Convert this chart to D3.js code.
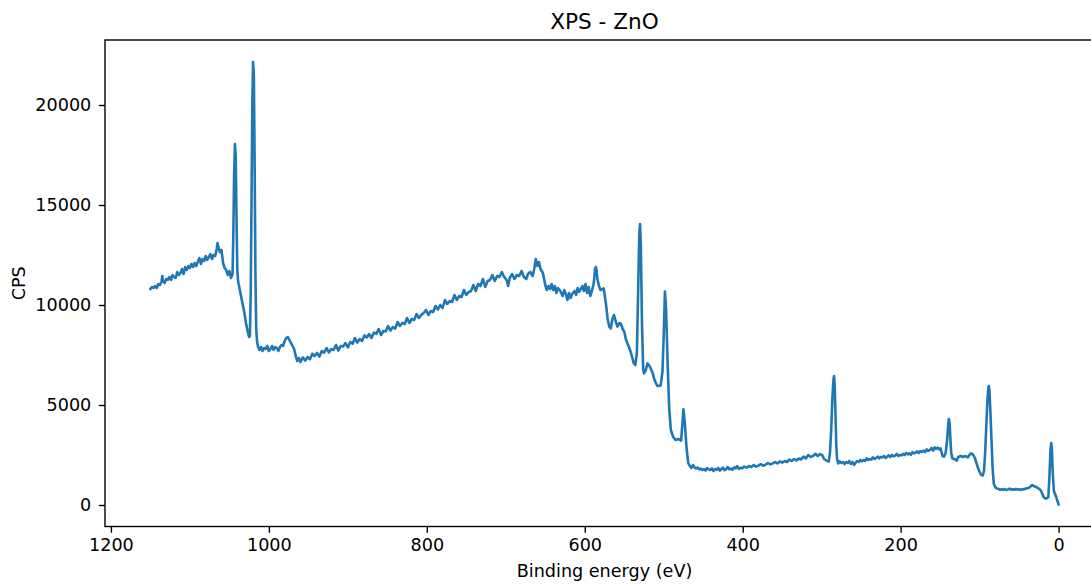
<!DOCTYPE html>
<html>
<head>
<meta charset="utf-8">
<script src="https://cdn.jsdelivr.net/npm/d3@7"></script>
<style>
html,body{margin:0;padding:0;background:#fff;}
svg{display:block;font-family:"DejaVu Sans",sans-serif;}
</style>
</head>
<body>
<div id="chart"></div>
<script>
const energy = [
1150,1148,1146,1144,1142,1140,1138,1136,1135,1134,
1132,1130,1128,1126,1124,1122,1120,1118,1116,1114,
1112,1110,1108,1106,1104,1102,1100,1098,1096,1094,
1092,1090,1088,1086,1084,1082,1080,1078,1076,1074,
1072,1070,1068,1066,1065,1064,1062,1060,1058,1056,
1054,1052,1050,1048,1046,1045,1044,1043,1042,1041,
1040,1039,1037,1035,1033,1031,1029,1027,1025,1024,
1023,1022,1021,1020,1019,1018,1017,1016,1015,1014,
1012,1010,1008,1006,1004,1002,1000,998,996,994,
992,990,988,986,984,982,980,978,976,974,
972,970,968,966,964,962,960,957,954,951,
948,945,942,939,936,933,930,927,924,921,
918,915,912,909,906,903,900,897,894,891,
888,885,882,879,876,873,870,867,864,861,
858,855,852,849,846,843,840,837,834,831,
828,825,822,819,816,813,810,807,804,801,
798,795,792,789,786,783,780,777,774,771,
768,765,762,759,756,753,750,747,744,741,
738,735,732,729,726,723,720,717,714,711,
708,705,702,699,697,695,692,689,686,683,
680,677,674,672,669,666,664,662,660,658,
656,653,650,648,646,644,642,640,638,636,
634,631,628,626,624,622,620,618,616,613,
611,609,607,605,603,601,599,597,595,593,
591,589,588,587,586,585,584,582,580,576,
573,571,569,567,565,563,561,558.6,556,554.4,
552,550,548,546,544,542,540,538,536,534,
532.5,531,530,529,527.5,526,525,523,520.6,518,
516.5,514,512.3,510,508,506,503.8,501.6,500,498.5,
497,495,493,491,488,485,481,478,476.5,475,
473.5,471,469,467,465,463,461,459,457,455,
453,451,449,447,445,443,441,439,437,435,
433,431,429,427,425,423,421,419,417,415,
413,411,409,407,405,403,401,398,395,392,
389,386,383,380,377,374,371,368,365,362,
359,356,353,350,347,344,341,338,335,332,
329,326,323,320,317,314,311,308,305,302,
299,297,295,293,291,289.5,288,286.5,285,284.3,
283.5,282.5,281.5,280.5,279,277,275,273,271,269,
267,265,263,261,259,257,255,253,251,249,
247,245,243,241,239,237,235,233,231,229,
227,225,223,221,219,217,215,213,211,209,
207,205,203,201,199,197,195,193,191,189,
187,185,183,181,179,177,175,173,171,169,
167,165,163,161,159,157,155,153,151,149.5,
147,145,143,141,140,139,138,137,136,134.5,
132,129,127,124,121,118,115,112,110,108,
106,104,102,100,98,96,94.5,93,91.5,90,
89,88.3,87.5,86.5,85,83.5,82,80,78,76,
74,72,70,68,66,64,62,60,58,56,
54,52,50,48,46,44,42,40,38,36,
34.5,33,31,29,27,25,23,21,19,17,
15,13,11.5,10.3,9.3,8.5,7.5,6,4.5,3,
1.5,0];
const cps = [
10800,10900,10850,10950,10850,11050,11000,11150,11450,11200,
11100,11300,11250,11400,11250,11500,11400,11350,11650,11500,
11600,11800,11550,11900,11750,11950,11850,12050,11900,12100,
11950,12150,12350,12050,12300,12200,12450,12250,12400,12550,
12300,12500,12450,12800,13100,12900,12650,12750,12100,11850,
11750,11500,11700,11350,11550,13500,16500,18050,17500,14500,
11800,11200,10800,10400,10000,9600,9100,8700,8400,8450,
10500,15000,20000,22150,21500,17000,11500,8800,8200,7950,
7750,7900,7700,7850,7800,7950,7700,7800,7950,7750,
7900,7850,7700,7900,8000,7950,8200,8350,8400,8250,
8100,7950,7800,7450,7200,7350,7150,7380,7220,7400,
7290,7560,7450,7600,7420,7700,7620,7850,7630,7800,
7750,8000,7720,7950,7930,8100,7880,8150,8060,8350,
8120,8300,8200,8480,8380,8550,8350,8620,8560,8800,
8500,8700,8680,8950,8720,8900,8820,9150,8950,9100,
9050,9350,9100,9300,9250,9550,9350,9500,9600,9750,
9500,9700,9650,9950,9780,10000,9850,10250,10050,10200,
10150,10500,10250,10450,10400,10750,10500,10650,10700,11000,
10700,11050,10950,11300,10900,11200,11250,11500,11200,11450,
11400,11650,11400,11250,10950,11350,11550,11300,11500,11450,
11700,11400,11300,11550,11650,11450,11800,12300,11950,12150,
11800,11600,11000,10750,10950,10800,11050,10750,10950,10600,
10850,10700,10450,10750,10550,10250,10600,10350,10550,10700,
10500,10850,10650,10800,10950,10700,11050,10600,10900,10450,
10700,11000,11300,11800,11900,11750,11300,10950,10750,10830,
10000,9300,8920,8830,9300,9500,9200,8920,9100,9080,
8800,8670,8300,8080,7900,7670,7400,7080,7000,7600,
10500,13500,14050,13000,9000,6800,6580,6700,7080,6950,
6830,6600,6330,6100,5950,5950,6000,6670,8500,10670,
9800,7000,4800,3750,3400,3250,3300,3220,4000,4780,
4200,2800,2100,1950,1850,2000,1880,1830,1870,1780,
1820,1750,1800,1720,1850,1780,1750,1830,1700,1800,
1760,1850,1720,1800,1870,1740,1790,1900,1780,1820,
1760,1880,1830,1950,1800,1860,1830,1920,1870,1950,
1900,2000,1920,1970,2050,1960,2020,2100,2030,2080,
2150,2080,2180,2120,2200,2150,2270,2200,2300,2230,
2320,2280,2420,2330,2500,2400,2450,2560,2450,2550,
2480,2300,2250,2200,2170,2600,3700,5300,6300,6450,
6000,4500,3000,2300,2080,2180,2100,2150,2050,2150,
2100,2200,2050,2150,2000,2120,2200,2150,2250,2180,
2260,2200,2330,2250,2300,2280,2380,2300,2350,2420,
2330,2400,2380,2450,2350,2420,2480,2400,2500,2430,
2470,2550,2450,2500,2480,2560,2500,2600,2530,2580,
2520,2640,2580,2620,2680,2600,2700,2650,2720,2650,
2780,2700,2750,2850,2720,2880,2800,2870,2780,2830,
2450,2420,2600,3300,3900,4300,4100,3300,2600,2330,
2300,2220,2400,2450,2400,2450,2380,2550,2580,2500,
2350,2100,1850,1650,1500,1480,1700,2600,4000,5300,
5800,5950,5700,4800,3300,1800,1050,880,820,800,
760,790,760,800,750,780,820,770,790,760,
810,770,790,750,800,780,820,830,860,900,
980,1000,930,920,860,820,750,600,400,330,
330,400,1500,2700,3100,2800,1700,700,550,400,
200,30];
const xTicks = [1200,1000,800,600,400,200,0];
const yTicks = [0,5000,10000,15000,20000];
const titleText = "XPS - ZnO";
const xLabel = "Binding energy (eV)";
const yLabel = "CPS";

const W = 1091, H = 584;
const m = {left:105, top:40, right:1104, bottom:526.5};
const svg = d3.select("#chart").append("svg").attr("width",W).attr("height",H);

const x = d3.scaleLinear().domain([1207.5,-57.5]).range([m.left,m.right]);
const y = d3.scaleLinear().domain([-1075,23250]).range([m.bottom,m.top]);

svg.append("clipPath").attr("id","clip").append("rect")
  .attr("x",m.left).attr("y",m.top).attr("width",m.right-m.left).attr("height",m.bottom-m.top);

const n = Math.min(energy.length, cps.length);
const pts = d3.range(n).map(i=>[energy[i],cps[i]]);
svg.append("path").datum(pts)
  .attr("clip-path","url(#clip)")
  .attr("fill","none").attr("stroke","#1f77b4").attr("stroke-width",2.6)
  .attr("stroke-linejoin","round").attr("stroke-linecap","square")
  .attr("d", d3.line().x(d=>x(d[0])).y(d=>y(d[1])));

// axes
const xAxis = d3.axisBottom(x).tickValues(xTicks).tickSize(6.2).tickPadding(6.2).tickFormat(d3.format("d"));
const yAxis = d3.axisLeft(y).tickValues(yTicks).tickSize(6.2).tickPadding(7.5).tickFormat(d3.format("d"));
const gx = svg.append("g").attr("transform",`translate(0,${m.bottom})`).call(xAxis);
const gy = svg.append("g").attr("transform",`translate(${m.left},0)`).call(yAxis);
[gx,gy].forEach(g=>{
  g.select(".domain").remove();
  g.selectAll(".tick line").attr("stroke","#000").attr("stroke-width",1.4);
  g.selectAll(".tick text").attr("fill","#000").style("font-size","17.6px").style("font-family","'DejaVu Sans'");
});

// spines
svg.append("rect").attr("x",m.left).attr("y",m.top).attr("width",m.right-m.left).attr("height",m.bottom-m.top)
  .attr("fill","none").attr("stroke","#000").attr("stroke-width",1.4);

const cx = (m.left+m.right)/2;
svg.append("text").attr("x",cx).attr("y",29.3).attr("text-anchor","middle")
  .style("font-size","21.6px").text(titleText);
svg.append("text").attr("x",cx).attr("y",576.7).attr("text-anchor","middle")
  .style("font-size","17.6px").text(xLabel);
svg.append("text").attr("transform",`translate(24.5,${(m.top+m.bottom)/2}) rotate(-90)`).attr("text-anchor","middle")
  .style("font-size","17.6px").text(yLabel);
</script>
</body>
</html>
